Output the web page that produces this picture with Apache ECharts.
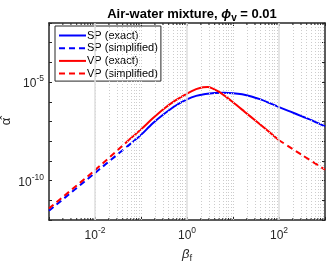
<!DOCTYPE html>
<html>
<head>
<meta charset="utf-8">
<script src="https://cdn.jsdelivr.net/npm/echarts@6/dist/echarts.min.js"></script>
<style>html,body{margin:0;padding:0;background:#fff}#c{width:327px;height:264px}</style>
</head>
<body>
<div id="c"></div>
<script>
// ---- data ----
const spExactBeta  = [0.066, 0.1, 0.178, 0.316, 0.562, 1, 1.58, 2.51, 3.98, 6.31, 10, 15.8, 25.1, 39.8, 63.1, 100, 178, 316, 562, 1000];
const spExactAlpha = [9.1e-9, 2.09e-8, 7.94e-8, 2.40e-7, 6.31e-7, 1.32e-6, 2.0e-6, 2.51e-6, 2.82e-6, 2.88e-6, 2.75e-6, 2.40e-6, 1.86e-6, 1.32e-6, 8.5e-7, 5.37e-7, 3.16e-7, 1.82e-7, 1.05e-7, 5.62e-8];
const spSimpBeta   = [0.001, 0.01, 0.066];
const spSimpAlpha  = [2.95e-12, 2.45e-10, 9.1e-9];
const vpExactBeta  = [0.055, 0.1, 0.178, 0.316, 0.562, 1, 1.58, 2.24, 2.82, 3.55, 5.01, 7.08, 10, 17.8, 31.6, 56.2, 100];
const vpExactAlpha = [1.17e-8, 3.98e-8, 1.41e-7, 4.47e-7, 1.17e-6, 2.63e-6, 4.37e-6, 5.50e-6, 5.62e-6, 4.79e-6, 3.16e-6, 1.78e-6, 9.5e-7, 3.16e-7, 1.05e-7, 3.47e-8, 1.12e-8];
const vpSimpLowBeta   = [0.001, 0.01, 0.055];
const vpSimpLowAlpha  = [3.9e-12, 3.4e-10, 1.17e-8];
const vpSimpHighBeta  = [100, 316, 1000];
const vpSimpHighAlpha = [1.12e-8, 2.0e-9, 3.6e-10];

const xMin = 1e-3, xMax = 1e3, yMin = 1e-12, yMax = 1e-2;
const xMajorGrid = [1e-2, 1, 1e2];
const yMajorGrid = [1e-5, 1e-10];
const xDecadeGrid = [1e-1, 1e1];
const yDecadeGrid = [1e-3, 1e-4, 1e-6, 1e-7, 1e-8, 1e-9, 1e-11];
const xMinor = [];
for (let e = -3; e <= 2; e++) for (let k = 2; k <= 9; k++) xMinor.push(k * Math.pow(10, e));

const FONT = '"Liberation Sans", Arial, Helvetica, sans-serif';
const INK = '#262626';
const DOT = '#cccccc';
const pair = (xs, ys) => xs.map((x, i) => [x, ys[i]]);

function expLabel(v, every) {
  const e = Math.round(Math.log10(v));
  if (e % every !== 0) return '';
  return '{b|10}{s|' + e + '}';
}
const labelRich = {
  b: { fontSize: 12, fontFamily: FONT, color: INK, padding: [4, 0, 0, 0] },
  s: { fontSize: 8.5, fontFamily: FONT, color: INK, padding: [0, 0, 6, 0] }
};

const chart = echarts.init(document.getElementById('c'), null, { renderer: 'canvas' });
const gridLineSeries = {
  type: 'line', data: [], silent: true, z: 1,
  markLine: {
    silent: true, symbol: ['none', 'none'], label: { show: false }, animation: false,
    data: [
      ...xMinor.filter(v => Math.abs(Math.log10(v) - Math.round(Math.log10(v))) > 1e-6)
        .map(v => ({ xAxis: v, lineStyle: { type: [1, 2], color: DOT, width: 1 } })),
      ...xDecadeGrid.map(v => ({ xAxis: v, lineStyle: { type: [1, 2], color: DOT, width: 1 } })),
      ...yDecadeGrid.map(v => ({ yAxis: v, lineStyle: { type: [1, 2], color: DOT, width: 1 } })),
      ...xMajorGrid.map(v => ({ xAxis: v, lineStyle: { type: 'solid', color: '#dedede', width: 1.5 } })),
      ...yMajorGrid.map(v => ({ yAxis: v, lineStyle: { type: 'solid', color: '#dedede', width: 1.5 } }))
    ]
  }
};

const minorTickSeries = {
  type: 'custom', silent: true, z: 5, clip: false,
  data: xMinor.map(v => [v, 1e-7]),
  renderItem: function (params, api) {
    const v = api.value(0);
    const b = api.coord([v, yMin]);
    const t = api.coord([v, yMax]);
    return { type: 'group', children: [
      { type: 'line', shape: { x1: b[0], y1: b[1], x2: b[0], y2: b[1] - 2 }, style: { stroke: INK, lineWidth: 1 } },
      { type: 'line', shape: { x1: t[0], y1: t[1], x2: t[0], y2: t[1] + 2 }, style: { stroke: INK, lineWidth: 1 } }
    ]};
  }
};

function curve(name, data, color, dashed) {
  return {
    name: name, type: 'line', data: data, symbol: 'none', showSymbol: false, smooth: 0.3,
    z: 3, clip: true,
    lineStyle: { color: color, width: 2, type: dashed ? [6, 4] : 'solid' },
    itemStyle: { color: color }
  };
}

const baseX = { type: 'log', logBase: 10, min: xMin, max: xMax, splitNumber: 6 };
const baseY = { type: 'log', logBase: 10, min: yMin, max: yMax, splitNumber: 10 };

chart.setOption({
  animation: false,
  backgroundColor: '#fff',
  title: {
    text: '{t|Air-water mixture, }{p|\u03d5}{v|v}{t| = 0.01}',
    left: 187, top: 0, textAlign: 'center',
    textStyle: {
      rich: {
        t: { fontSize: 13, fontWeight: 'bold', fontFamily: FONT, color: '#000' },
        p: { fontSize: 13, fontWeight: 'bold', fontStyle: 'italic', fontFamily: FONT, color: '#000' },
        v: { fontSize: 10, fontWeight: 'bold', fontFamily: FONT, color: '#000', padding: [8, 0, 0, 0] }
      }
    }
  },
  legend: {
    data: ['SP (exact)', 'SP (simplified)', 'VP (exact)', 'VP (simplified)'],
    orient: 'vertical', left: 55, top: 26,
    itemWidth: 27, itemHeight: 12, itemGap: 1.7,
    padding: [4, 3, 2, 3],
    borderColor: INK, borderWidth: 1, backgroundColor: '#fff',
    selectedMode: false,
    itemStyle: { opacity: 0 },
    textStyle: { fontSize: 11, fontFamily: FONT, color: '#000', padding: [0, 0, 0, -4] }
  },
  grid: { left: 49, right: 2, top: 23, bottom: 44, containLabel: false, outerBoundsMode: 'none' },
  xAxis: [
    Object.assign({}, baseX, {
      position: 'bottom',
      name: '{b|\u03b2}{s|f}', nameLocation: 'middle', nameGap: 25, nameMoveOverlap: false,
      nameTextStyle: { rich: {
        b: { fontSize: 13, fontStyle: 'italic', fontFamily: FONT, color: INK },
        s: { fontSize: 9.5, fontFamily: FONT, color: INK, padding: [8, 0, 0, 0] }
      } },
      axisLine: { show: true, lineStyle: { color: INK, width: 1.5 } },
      axisTick: { show: true, inside: true, length: 3, lineStyle: { color: INK } },
      axisLabel: { formatter: v => expLabel(v, 2), rich: labelRich, margin: 6 },
      splitLine: { show: false }
    }),
    Object.assign({}, baseX, {
      position: 'top',
      axisLine: { show: true, lineStyle: { color: INK, width: 1.5 } },
      axisTick: { show: true, inside: true, length: 3, lineStyle: { color: INK } },
      axisLabel: { show: false }, splitLine: { show: false }
    })
  ],
  yAxis: [
    Object.assign({}, baseY, {
      position: 'left',
      name: '\u03b1\u0302', nameLocation: 'middle', nameGap: 36, nameRotate: 90, nameMoveOverlap: false,
      nameTextStyle: { fontSize: 13, fontFamily: FONT, color: INK },
      axisLine: { show: true, lineStyle: { color: INK, width: 1.5 } },
      axisTick: { show: true, inside: true, length: 3, lineStyle: { color: INK } },
      axisLabel: { formatter: v => expLabel(v, 5), rich: labelRich, margin: 5 },
      splitLine: { show: false }
    }),
    Object.assign({}, baseY, {
      position: 'right',
      axisLine: { show: true, lineStyle: { color: INK, width: 1.5 } },
      axisTick: { show: true, inside: true, length: 3, lineStyle: { color: INK } },
      axisLabel: { show: false }, splitLine: { show: false }
    })
  ],
  series: [
    gridLineSeries,
    curve('SP (exact)', pair(spExactBeta, spExactAlpha), '#0000ff', false),
    curve('SP (simplified)', pair(spSimpBeta, spSimpAlpha), '#0000ff', true),
    curve('VP (exact)', pair(vpExactBeta, vpExactAlpha), '#ff0000', false),
    curve('VP (simplified)', pair(vpSimpLowBeta, vpSimpLowAlpha), '#ff0000', true),
    curve('VP (simplified)', pair(vpSimpHighBeta, vpSimpHighAlpha), '#ff0000', true),
    minorTickSeries
  ]
});
</script>
</body>
</html>
